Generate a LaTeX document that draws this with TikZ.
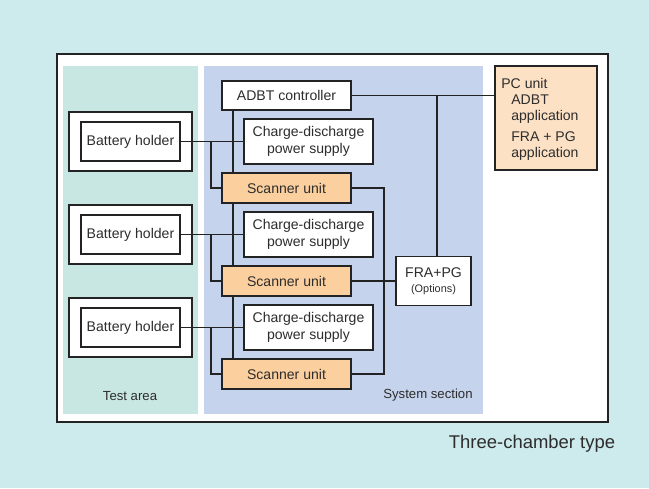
\documentclass[tikz,border=0pt]{standalone}
\usepackage{fontspec}
\setmainfont{Liberation Sans}
\usetikzlibrary{backgrounds}
\definecolor{chambercyan}{RGB}{205,234,237}
\definecolor{testgreen}{RGB}{200,231,226}
\definecolor{systemblue}{RGB}{197,211,236}
\definecolor{scannerorange}{RGB}{251,207,158}
\definecolor{pcpeach}{RGB}{253,225,197}
\definecolor{linegray}{RGB}{35,35,35}
\definecolor{textgray}{RGB}{45,45,45}

\tikzset{
  unitbox/.style={draw=linegray, line width=1.1pt, fill=white, minimum width=2.58cm,
    text=textgray, font=\fontsize{8}{9.8}\selectfont, align=center, inner sep=1pt},
  scanbox/.style={unitbox, fill=scannerorange, minimum height=0.6cm},
  supplybox/.style={unitbox, minimum height=0.9cm},
  holderbox/.style={unitbox, minimum width=1.98cm, minimum height=0.78cm},
  labeltext/.style={text=textgray, font=\fontsize{7.5}{9}\selectfont, inner sep=0pt},
  wire/.style={draw=linegray, line width=1.1pt},
}

\begin{document}
\begin{tikzpicture}[x=0.02cm, y=-0.02cm]
% Units of the system section
\node[unitbox, minimum height=0.58cm] (adbt) at (286.5,95.5) {ADBT controller};
\foreach \i/\y in {1/141.5, 2/234.5, 3/327.5} {
  \node[holderbox, minimum width=2.46cm, minimum height=1.18cm] (case\i) at (130.5,\y) {};
  \node[holderbox] (hold\i) at (130.5,\y) {Battery holder};
  \node[supplybox] (cd\i) at (308.5,\y) {Charge-discharge\\power supply};
  \node[scanbox] (scan\i) at (286.5,\y+46.5) {Scanner unit};
}
\node[unitbox, minimum width=1.5cm, minimum height=0.98cm] (fra) at (433.5,281)
  {FRA+PG\\[-1.5pt]{\fontsize{6.2}{7}\selectfont (Options)}};
% PC unit
\node[draw=linegray, line width=1.1pt, fill=pcpeach, minimum width=2.04cm, minimum height=2.08cm] (pc) at (546,118) {};
\node[anchor=north west, align=left, text=textgray, font=\fontsize{8}{9.2}\selectfont, inner sep=0pt] (pctext) at (501,78)
  {PC unit\\
   \hspace*{0.2cm}ADBT\\
   \hspace*{0.2cm}application\\[2.5pt]
   \hspace*{0.2cm}FRA + PG\\
   \hspace*{0.2cm}application};
% Labels
\node[labeltext] (testlabel) at (130,396) {Test area};
\node[labeltext, anchor=east] (systemlabel) at (473,395) {System section};
\node[text=textgray, font=\fontsize{10.5}{12}\selectfont, inner sep=0pt] (typelabel) at (532,444) {Three-chamber type};
% Wire positions
\coordinate (bus) at (233,0);
\coordinate (tap) at (211,0);
\coordinate (ret) at (384,0);
\coordinate (up) at (437,0);
% Wires
\foreach \i in {1,2,3} {
  \draw[wire] (hold\i.east) -- (cd\i.west);
  \draw[wire] (hold\i.east -| tap) |- (scan\i.west);
}
\draw[wire] (scan1.east) -| (scan3.east -| ret) -- (scan3.east);
\draw[wire] (scan2.east) -- (scan2.east -| fra.west);
\draw[wire] (adbt.east) -- (adbt.east -| pc.west);
\draw[wire] (fra.north -| up) -- (adbt.east -| up);
\begin{scope}[on background layer]
% Draw the panels
\fill[chambercyan] (0,0) rectangle (649,488);
\draw[linegray, line width=1.4pt, fill=white] (57,54) rectangle (608,422);
\fill[testgreen] (63,66) rectangle (198,414);
\fill[systemblue] (204,66) rectangle (483,414);
% Draw the bus behind the scanner units
\draw[wire] (adbt.south -| bus) -- (scan3.north -| bus);
\end{scope}
\end{tikzpicture}
\end{document}
